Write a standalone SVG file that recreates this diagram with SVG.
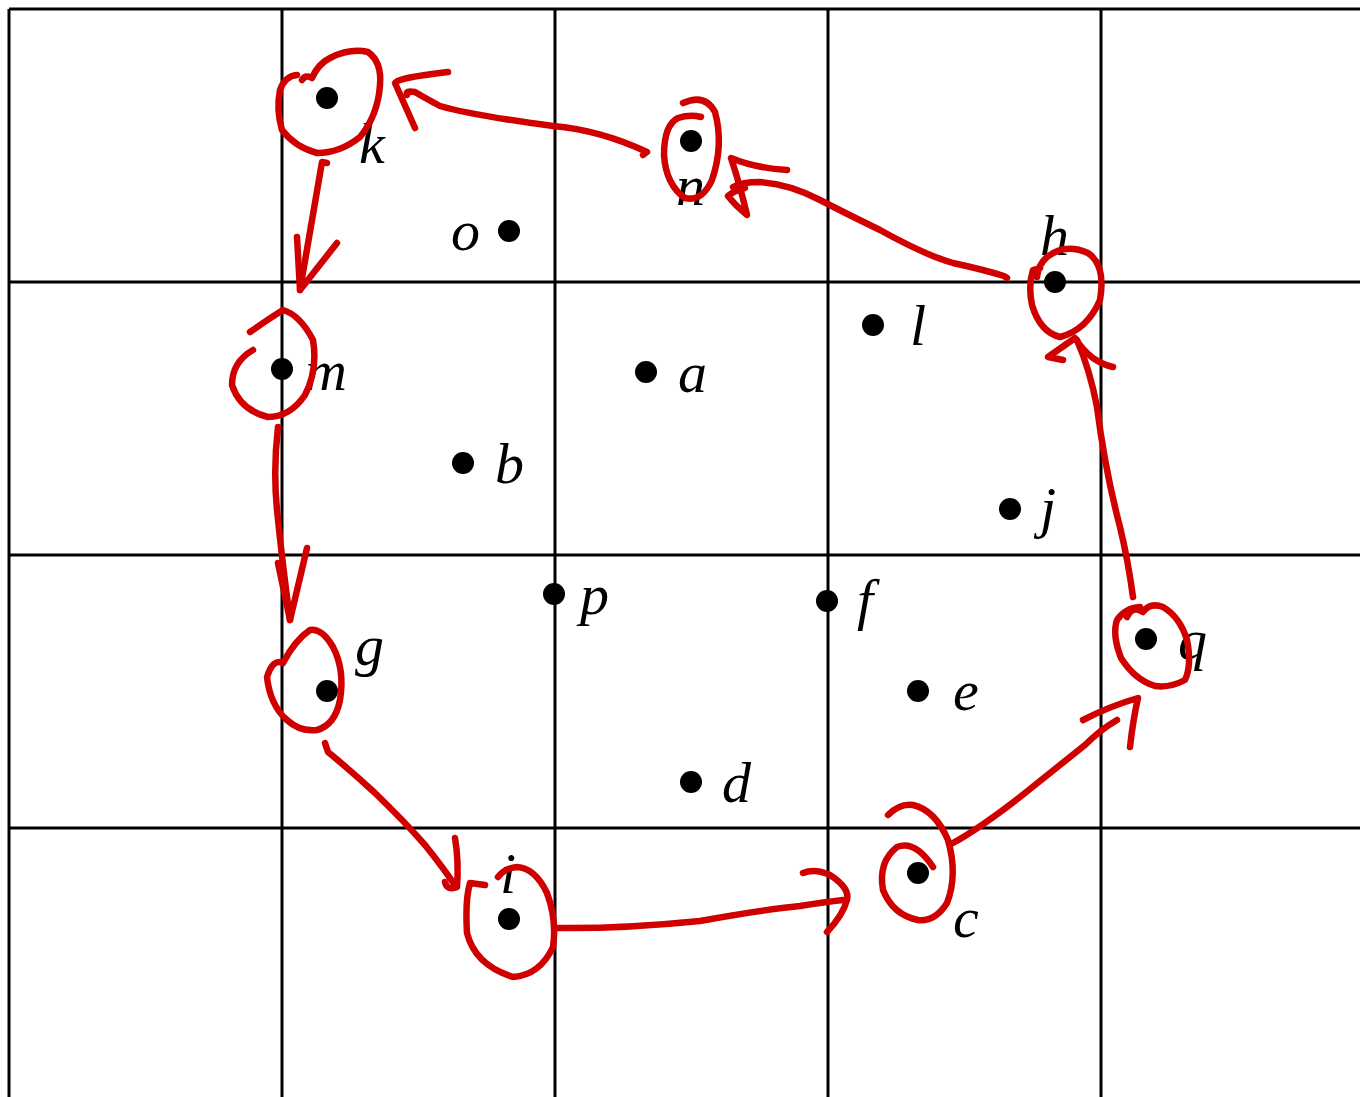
<svg xmlns="http://www.w3.org/2000/svg" width="1360" height="1097" viewBox="0 0 1360 1097">
<style>
.grid{stroke:#000;stroke-width:3;fill:none}
.dot{fill:#000}
.lbl{font-family:"Liberation Serif","Times New Roman",serif;font-style:italic;font-size:58px;fill:#000}
.red{fill:none;stroke:#d00000;stroke-width:6.5;stroke-linecap:round;stroke-linejoin:round}
</style>
<rect width="1360" height="1097" fill="#fff"/>
<g id="grid" class="grid">
<path d="M9,9 H1360 M9,282 H1360 M9,555 H1360 M9,828 H1360"/>
<path d="M9,9 V1097 M282,9 V1097 M555,9 V1097 M828,9 V1097 M1101,9 V1097"/>
</g>
<g id="node-k"><circle class="dot" cx="327" cy="98" r="11"/><text class="lbl" x="359" y="163">k</text>
<path class="red" d="M302,80 Q306,74 312,78 Q318,64 330,58 Q350,48 368,52 Q382,62 380,85 Q378,115 360,137 Q340,153 317,153 Q295,147 282,130 Q276,110 280,90 Q285,76 297,75"/></g>
<g id="node-n"><circle class="dot" cx="691" cy="141" r="11"/><text class="lbl" x="676" y="205">n</text>
<path class="red" d="M683,103 Q705,93 715,112 Q724,145 712,180 Q702,202 685,198 Q666,185 664,155 Q664,125 678,118 Q690,114 701,117"/></g>
<g id="node-o"><circle class="dot" cx="509" cy="231" r="11"/><text class="lbl" x="451" y="250">o</text></g>
<g id="node-h"><circle class="dot" cx="1055" cy="282" r="11"/><text class="lbl" x="1040" y="255">h</text>
<path class="red" d="M1040,268 L1033,270 Q1028,285 1032,305 Q1040,332 1060,337 Q1087,330 1100,300 Q1106,265 1088,253 Q1065,243 1047,257 Q1038,265 1037,277"/></g>
<g id="node-l"><circle class="dot" cx="873" cy="325" r="11"/><text class="lbl" x="910" y="345">l</text></g>
<g id="node-a"><circle class="dot" cx="646" cy="372" r="11"/><text class="lbl" x="678" y="392">a</text></g>
<g id="node-m"><circle class="dot" cx="282" cy="369" r="11"/><text class="lbl" x="305" y="390">m</text>
<path class="red" d="M250,332 Q270,318 283,310 Q300,315 313,340 Q318,370 305,395 Q290,417 268,417 Q240,410 232,385 Q232,362 253,350"/></g>
<g id="node-b"><circle class="dot" cx="463" cy="463" r="11"/><text class="lbl" x="495" y="483">b</text></g>
<g id="node-j"><circle class="dot" cx="1010" cy="509" r="11"/><text class="lbl" x="1040" y="527">j</text></g>
<g id="node-p"><circle class="dot" cx="554" cy="594" r="11"/><text class="lbl" x="580" y="614">p</text></g>
<g id="node-f"><circle class="dot" cx="827" cy="601" r="11"/><text class="lbl" x="857" y="619">f</text></g>
<g id="node-q"><circle class="dot" cx="1146" cy="639" r="11"/><text class="lbl" x="1178" y="659">q</text>
<path class="red" d="M1127,617 Q1133,605 1143,612 Q1150,602 1163,607 Q1180,617 1187,640 Q1192,665 1185,680 Q1170,688 1155,686 Q1135,680 1121,658 Q1112,635 1117,620 Q1125,608 1140,607"/></g>
<g id="node-g"><circle class="dot" cx="327" cy="691" r="11"/><text class="lbl" x="355" y="665">g</text>
<path class="red" d="M283,663 Q273,658 267,677 Q270,705 287,720 Q300,732 317,730 Q335,725 340,700 Q345,670 333,647 Q322,628 310,630 Q295,640 283,663"/></g>
<g id="node-e"><circle class="dot" cx="918" cy="691" r="11"/><text class="lbl" x="953" y="710">e</text></g>
<g id="node-d"><circle class="dot" cx="691" cy="782" r="11"/><text class="lbl" x="722" y="802">d</text></g>
<g id="node-c"><circle class="dot" cx="918" cy="873" r="11"/><text class="lbl" x="953" y="937">c</text>
<path class="red" d="M888,815 Q900,803 913,805 Q935,810 948,840 Q958,875 947,903 Q935,922 918,920 Q893,915 883,890 Q878,862 897,847 Q915,840 933,867"/></g>
<g id="node-i"><circle class="dot" cx="509" cy="919" r="11"/><text class="lbl" x="500" y="893">i</text>
<path class="red" d="M485,885 L470,883 Q465,900 467,933 Q475,965 513,977 Q540,975 553,947 Q557,920 547,893 Q535,868 517,867 Q505,868 498,877"/></g>
<g id="connectors" class="red">
<path d="M327,163 L322,162 Q312,220 300,290"/>
<path d="M297,237 L300,290 L337,243"/>
<path d="M643,155 L647,152 Q600,130 553,126 Q470,115 440,106 Q425,98 415,92 Q405,90 407,95"/>
<path d="M415,128 L395,83 Q396,78 448,72"/>
<path d="M1007,278 L1004,276 Q985,270 953,263 Q925,255 880,230 Q845,213 820,200 Q790,184 760,182 Q742,182 733,187"/>
<path d="M787,170 Q755,168 731,158 Q740,185 747,215 Q735,205 728,196 Q735,190 745,188"/>
<path d="M1133,597 Q1128,560 1120,527 Q1105,470 1097,407 Q1090,370 1077,340"/>
<path d="M1063,360 L1048,357 L1075,338 Q1090,362 1113,367"/>
<path d="M953,843 Q980,828 1020,797 Q1060,765 1085,745 Q1100,730 1117,720"/>
<path d="M1083,720 Q1110,706 1138,698 Q1133,720 1130,747"/>
<path d="M555,928 Q620,929 700,921 Q760,910 800,906 Q825,902 843,900"/>
<path d="M803,873 Q815,868 830,875 Q850,888 847,900 Q843,915 827,932"/>
<path d="M325,743 L328,752 Q350,770 375,793 Q405,822 425,845 Q445,870 456,887"/>
<path d="M455,838 Q459,862 457,887 Q447,891 445,882"/>
<path d="M278,427 Q273,470 277,510 Q282,560 290,620"/>
<path d="M278,563 L290,620 L307,548"/>
</g>
</svg>
